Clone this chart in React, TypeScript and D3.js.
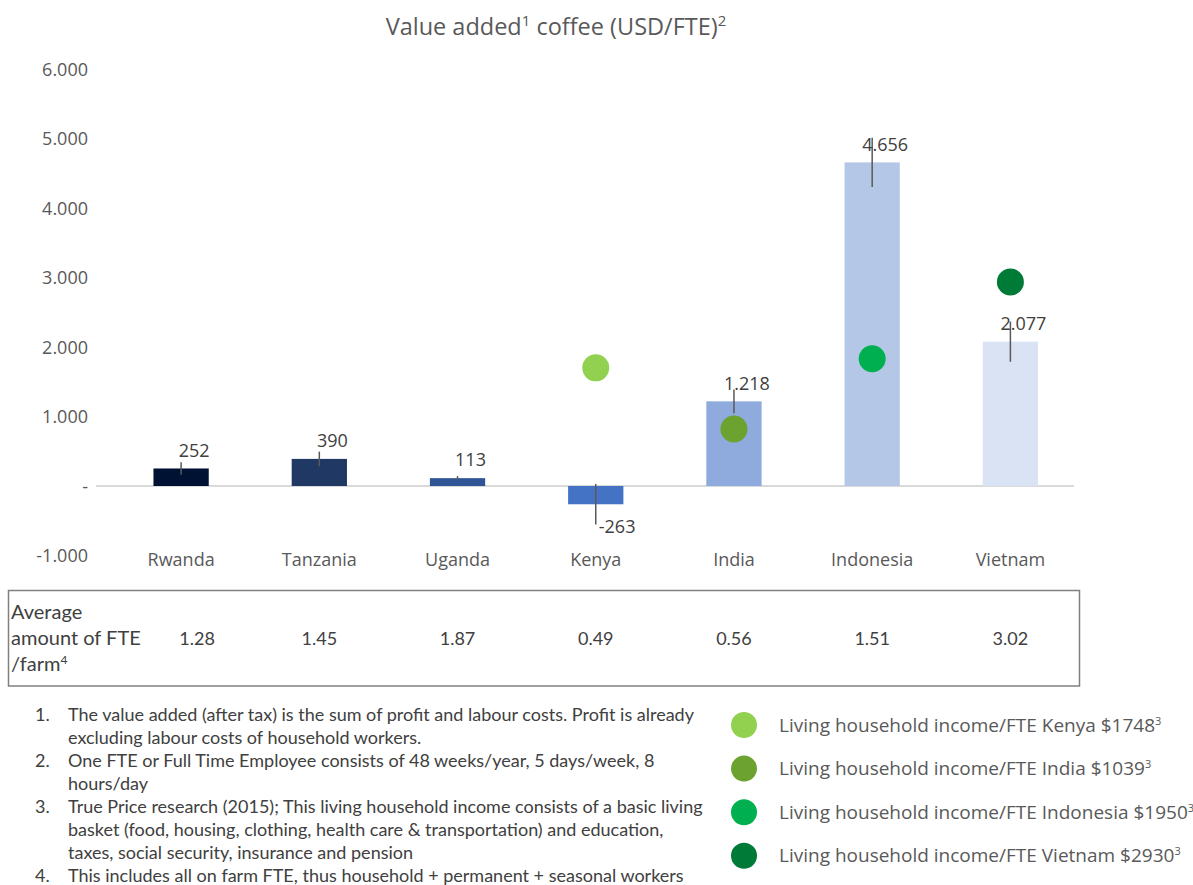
import React, { useEffect, useRef } from "react";
import { select, scaleBand, scaleLinear, axisLeft, formatLocale } from "d3";

// value added per FTE
const categories = ["Rwanda", "Tanzania", "Uganda", "Kenya", "India", "Indonesia", "Vietnam"];
const valueAdded = [252, 390, 113, -263, 1218, 4656, 2077];
const valueSpread = [90, 105, 30, 290, 170, 355, 290]; // whisker half length
const ftePerFarm = [1.28, 1.45, 1.87, 0.49, 0.56, 1.51, 3.02];
const barColors = ["#001234", "#203864", "#2F5597", "#4472C4", "#8FAADC", "#B4C7E7", "#DAE3F3"];

// living household income dots (plotted position) and the legend amounts
const livingCountries = ["Kenya", "India", "Indonesia", "Vietnam"];
const livingIncomePlotted = [1700, 820, 1830, 2935];
const livingIncomeLegend = [1748, 1039, 1950, 2930];
const livingColors = ["#92D050", "#6CA22F", "#00B050", "#007A37"];

const yTicks = [-1000, 0, 1000, 2000, 3000, 4000, 5000, 6000];

const footnotes = [
  [
    "The value added (after tax) is the sum of profit and labour costs. Profit is already",
    "excluding labour costs of household workers.",
  ],
  ["One FTE or Full Time Employee consists of 48 weeks/year, 5 days/week, 8", "hours/day"],
  [
    "True Price research (2015); This living household income consists of a basic living",
    "basket (food, housing, clothing, health care & transportation) and education,",
    "taxes, social security, insurance and pension",
  ],
  ["This includes all on farm FTE, thus household + permanent + seasonal workers"],
];

const nl = formatLocale({ decimal: ",", thousands: ".", grouping: [3], currency: ["", ""], minus: "-" });
const fmtThousands = nl.format(",.0f");
const fmtTick = (d: number) => (d === 0 ? "-" : fmtThousands(d));

const App = () => {
  const svgRef = useRef(null);

  const dims = {
    width: 1193,
    height: 885,
    bandLeft: 112,
    bandRight: 1079.5,
    lineLeft: 96,
    lineRight: 1074,
    yTop: 69,
    yBottom: 555.5,
  };

  const chartFont = "'Open Sans', 'DejaVu Sans', sans-serif";
  const noteFont = "Lato, 'Liberation Sans', sans-serif";
  const grey = "#595959";

  useEffect(() => {
    const svg = select(svgRef.current);
    svg.selectAll("*").remove();

    const x = scaleBand<string>()
      .domain(categories)
      .range([dims.bandLeft, dims.bandRight])
      .paddingInner(0.6)
      .paddingOuter(0.3);
    const cx = (c: string) => (x(c) as number) + x.bandwidth() / 2;

    const y = scaleLinear().domain([-1000, 6000]).range([dims.yBottom, dims.yTop]);

    // title
    const title = svg
      .append("text")
      .attr("x", 556)
      .attr("y", 35)
      .attr("text-anchor", "middle")
      .attr("font-family", chartFont)
      .attr("font-size", 23.5)
      .attr("fill", grey);
    title.append("tspan").text("Value added");
    title.append("tspan").attr("dy", -9).attr("font-size", 15).text("1");
    title.append("tspan").attr("dy", 9).text(" coffee (USD/FTE)");
    title.append("tspan").attr("dy", -9).attr("font-size", 15).text("2");

    // y axis
    const yAxis = axisLeft(y).tickValues(yTicks).tickSize(0).tickPadding(0).tickFormat(fmtTick as any);
    const gy = svg.append("g").attr("transform", "translate(88,0)").call(yAxis);
    gy.select(".domain").remove();
    gy.selectAll("text")
      .attr("font-family", chartFont)
      .attr("font-size", 18)
      .attr("fill", grey)
      .attr("dy", "0.35em");

    // zero line
    svg
      .append("line")
      .attr("x1", dims.lineLeft)
      .attr("x2", dims.lineRight)
      .attr("y1", y(0))
      .attr("y2", y(0))
      .attr("stroke", "#D9D9D9")
      .attr("stroke-width", 2);

    // bars
    svg
      .append("g")
      .selectAll("rect")
      .data(categories)
      .enter()
      .append("rect")
      .attr("x", (c) => x(c) as number)
      .attr("width", x.bandwidth())
      .attr("y", (_, i) => y(Math.max(0, valueAdded[i])))
      .attr("height", (_, i) => Math.abs(y(valueAdded[i]) - y(0)))
      .attr("fill", (_, i) => barColors[i]);

    // whiskers
    svg
      .append("g")
      .selectAll("line")
      .data(categories)
      .enter()
      .append("line")
      .attr("x1", (c) => cx(c))
      .attr("x2", (c) => cx(c))
      .attr("y1", (_, i) => y(valueAdded[i] - valueSpread[i]))
      .attr("y2", (_, i) => y(valueAdded[i] + valueSpread[i]))
      .attr("stroke", grey)
      .attr("stroke-width", 1.5);

    // value labels, outside end of each bar
    svg
      .append("g")
      .selectAll("text")
      .data(categories)
      .enter()
      .append("text")
      .attr("x", (c, i) => (valueAdded[i] < 0 ? cx(c) + 3 : cx(c) + 13))
      .attr("y", (_, i) => (valueAdded[i] < 0 ? y(valueAdded[i]) + 22 : y(valueAdded[i]) - 18))
      .attr("dy", "0.35em")
      .attr("text-anchor", (_, i) => (valueAdded[i] < 0 ? "start" : "middle"))
      .attr("font-family", chartFont)
      .attr("font-size", 18)
      .attr("fill", "#404040")
      .text((_, i) => fmtThousands(valueAdded[i]));

    // living income dots
    svg
      .append("g")
      .selectAll("circle")
      .data(livingCountries)
      .enter()
      .append("circle")
      .attr("cx", (c) => cx(c))
      .attr("cy", (_, i) => y(livingIncomePlotted[i]))
      .attr("r", 13.5)
      .attr("fill", (_, i) => livingColors[i]);

    // category labels
    svg
      .append("g")
      .selectAll("text")
      .data(categories)
      .enter()
      .append("text")
      .attr("x", (c) => cx(c))
      .attr("y", 560)
      .attr("dy", "0.35em")
      .attr("text-anchor", "middle")
      .attr("font-family", chartFont)
      .attr("font-size", 18)
      .attr("fill", grey)
      .text((c) => c);

    // FTE table
    svg
      .append("rect")
      .attr("x", 8.5)
      .attr("y", 590.5)
      .attr("width", 1071)
      .attr("height", 95.5)
      .attr("fill", "none")
      .attr("stroke", "#808080")
      .attr("stroke-width", 1.5);

    const rowLabel = svg
      .append("text")
      .attr("font-family", noteFont)
      .attr("font-size", 20)
      .attr("fill", "#404040");
    rowLabel.append("tspan").attr("x", 11).attr("y", 619).text("Average");
    rowLabel.append("tspan").attr("x", 11).attr("y", 645).text("amount of FTE");
    rowLabel.append("tspan").attr("x", 11).attr("y", 671).text("/farm");
    rowLabel.append("tspan").attr("dy", -7).attr("font-size", 12).text("4");

    svg
      .append("g")
      .selectAll("text")
      .data(categories)
      .enter()
      .append("text")
      .attr("x", (c, i) => (i === 0 ? cx(c) + 16 : cx(c)))
      .attr("y", 645)
      .attr("text-anchor", "middle")
      .attr("font-family", noteFont)
      .attr("font-size", 18)
      .attr("fill", "#404040")
      .text((_, i) => ftePerFarm[i].toFixed(2));

    // footnotes
    const notes = svg.append("g").attr("font-family", noteFont).attr("font-size", 18).attr("fill", "#404040");
    let lineNo = 0;
    footnotes.forEach((lines, n) => {
      lines.forEach((ln, k) => {
        const ly = 721 + lineNo * 23;
        if (k === 0) notes.append("text").attr("x", 35).attr("y", ly).text(`${n + 1}.`);
        notes.append("text").attr("x", 68).attr("y", ly).text(ln);
        lineNo++;
      });
    });

    // legend
    const legend = svg.append("g");
    livingCountries.forEach((c, i) => {
      const ly = 725 + i * 43.6;
      legend.append("circle").attr("cx", 744).attr("cy", ly).attr("r", 13).attr("fill", livingColors[i]);
      const t = legend
        .append("text")
        .attr("x", 779)
        .attr("y", ly)
        .attr("dy", "0.35em")
        .attr("font-family", chartFont)
        .attr("font-size", 19)
        .attr("fill", grey);
      t.append("tspan").text(`Living household income/FTE ${c} $${livingIncomeLegend[i]}`);
      t.append("tspan").attr("dy", -7).attr("font-size", 11).text("3");
    });
  }, []);

  return (
    <svg
      ref={svgRef}
      width={dims.width}
      height={dims.height}
      style={{ position: "absolute", left: 0, top: 0, background: "#fff" }}
    ></svg>
  );
};

export default App;
